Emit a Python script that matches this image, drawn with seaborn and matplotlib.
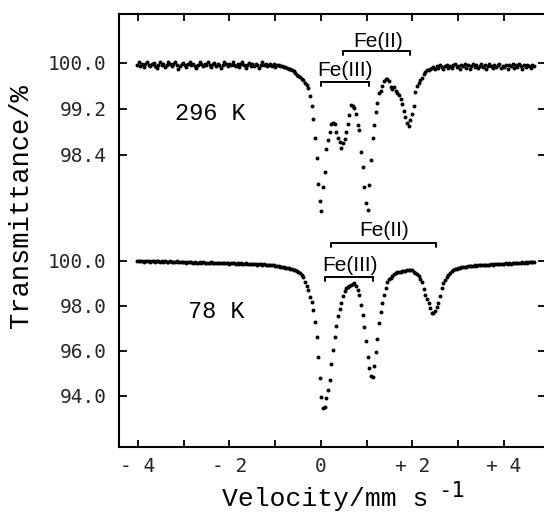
import matplotlib
matplotlib.use('Agg')
import matplotlib.pyplot as plt
from matplotlib import font_manager
import numpy as np
import seaborn as sns

# ---------------------------------------------------------------------------
# Data: Mössbauer spectra, transmittance (%) per channel
# ---------------------------------------------------------------------------
VEL_START = -4.02   # mm/s, first channel
VEL_STEP = 0.036    # mm/s per channel
N_CHAN = 242

T_296K = [
    99.97, 100.01, 99.95, 99.99, 99.93, 99.98, 100.02, 99.96, 99.94, 99.99,
    100.00, 99.95, 99.92, 99.97, 100.01, 99.96, 99.99, 99.93, 99.97, 100.02,
    99.98, 99.94, 99.99, 100.01, 99.96, 99.90, 99.95, 99.99, 100.00, 99.97,
    99.93, 99.98, 100.02, 99.96, 99.99, 99.95, 99.92, 99.97, 100.01, 99.98,
    99.94, 99.99, 99.96, 100.02, 99.97, 99.93, 99.98, 100.00, 99.95, 99.99,
    99.96, 99.91, 99.97, 100.01, 99.98, 99.94, 99.99, 99.96, 100.02, 99.97,
    99.95, 99.99, 99.93, 99.98, 100.01, 99.96, 99.92, 99.97, 100.00, 99.95,
    99.98, 99.94, 99.99, 99.96, 99.91, 99.97, 100.01, 99.96, 99.99, 99.94,
    99.97, 99.99, 99.95, 99.98, 99.93, 99.96, 99.97, 99.94, 99.95, 99.93,
    99.93, 99.92, 99.90, 99.90, 99.88, 99.86, 99.82, 99.79, 99.77, 99.75,
    99.73, 99.70, 99.65, 99.61, 99.56, 99.42, 99.25, 99.02, 98.70, 98.35,
    97.90, 97.60, 97.43, 97.85, 98.10, 98.50, 98.66, 98.80, 98.93, 98.96,
    98.94, 98.80, 98.70, 98.63, 98.52, 98.60, 98.68, 98.80, 98.93, 99.10,
    99.27, 99.25, 99.22, 99.12, 98.92, 98.84, 98.46, 98.19, 97.85, 97.56,
    97.45, 97.88, 98.31, 98.69, 98.92, 99.14, 99.31, 99.47, 99.52, 99.60,
    99.68, 99.72, 99.72, 99.68, 99.58, 99.55, 99.59, 99.52, 99.48, 99.44,
    99.37, 99.28, 99.16, 99.06, 98.95, 98.90, 99.00, 99.12, 99.25, 99.50,
    99.60, 99.66, 99.70, 99.74, 99.80, 99.84, 99.87, 99.88, 99.90, 99.91,
    99.93, 99.90, 99.95, 99.92, 99.96, 99.93, 99.89, 99.94, 99.97, 99.92,
    99.95, 99.91, 99.96, 99.99, 99.93, 99.95, 99.90, 99.96, 99.94, 99.98,
    99.92, 99.96, 99.89, 99.95, 99.99, 99.93, 99.97, 99.91, 99.95, 99.98,
    99.93, 99.96, 99.90, 99.94, 99.99, 99.95, 99.92, 99.97, 99.93, 99.96,
    99.99, 99.91, 99.95, 99.93, 99.97, 99.89, 99.96, 99.94, 99.98, 99.92,
    99.96, 99.93, 99.99, 99.94, 99.90, 99.96, 99.93, 99.97, 99.95, 99.92,
    99.96, 99.94,
]

T_78K = [
    99.99, 100.01, 99.98, 100.00, 99.97, 99.99, 100.01, 99.98, 99.97, 100.00,
    99.98, 99.96, 99.99, 100.00, 99.97, 99.98, 99.96, 99.99, 99.97, 99.95,
    99.98, 99.97, 99.94, 99.96, 99.98, 99.95, 99.97, 99.94, 99.96, 99.95,
    99.93, 99.96, 99.94, 99.95, 99.92, 99.95, 99.93, 99.91, 99.94, 99.92,
    99.94, 99.91, 99.93, 99.90, 99.92, 99.94, 99.91, 99.93, 99.90, 99.92,
    99.90, 99.92, 99.89, 99.91, 99.93, 99.90, 99.88, 99.91, 99.89, 99.90,
    99.88, 99.90, 99.87, 99.89, 99.86, 99.88, 99.89, 99.86, 99.88, 99.85,
    99.87, 99.85, 99.86, 99.84, 99.86, 99.85, 99.83, 99.85, 99.84, 99.82,
    99.83, 99.81, 99.82, 99.80, 99.79, 99.78, 99.76, 99.75, 99.74, 99.72,
    99.71, 99.69, 99.67, 99.65, 99.63, 99.60, 99.58, 99.56, 99.52, 99.47,
    99.38, 99.28, 99.08, 98.90, 98.70, 98.41, 98.19, 97.82, 97.30, 96.64,
    95.75, 94.79, 93.97, 93.45, 93.52, 93.90, 94.25, 94.70, 95.42, 96.05,
    96.60, 97.10, 97.55, 97.86, 98.15, 98.45, 98.68, 98.78, 98.85, 98.90,
    98.93, 98.97, 99.00, 98.90, 98.72, 98.49, 98.04, 97.60, 97.05, 96.45,
    95.75, 95.25, 94.90, 94.85, 95.35, 95.95, 96.55, 97.25, 97.75, 98.15,
    98.50, 98.80, 99.05, 99.18, 99.26, 99.35, 99.42, 99.46, 99.50, 99.52,
    99.53, 99.55, 99.56, 99.57, 99.58, 99.59, 99.60, 99.58, 99.53, 99.47,
    99.40, 99.32, 99.20, 99.05, 98.75, 98.50, 98.30, 98.15, 97.90, 97.70,
    97.68, 97.76, 97.95, 98.15, 98.45, 98.80, 99.00, 99.16, 99.28, 99.38,
    99.47, 99.54, 99.60, 99.63, 99.66, 99.69, 99.71, 99.72, 99.74, 99.73,
    99.75, 99.76, 99.78, 99.77, 99.79, 99.80, 99.79, 99.81, 99.82, 99.80,
    99.82, 99.83, 99.81, 99.84, 99.83, 99.85, 99.84, 99.86, 99.85, 99.87,
    99.86, 99.88, 99.87, 99.86, 99.89, 99.88, 99.90, 99.88, 99.91, 99.89,
    99.92, 99.90, 99.93, 99.91, 99.94, 99.92, 99.95, 99.93, 99.96, 99.94,
    99.97, 99.96,
]

# ticks
X_TICKS = [-4, -3, -2, -1, 0, 1, 2, 3, 4]
X_TICK_LABELS = ['- 4', '', '- 2', '', '0', '', '+ 2', '', '+ 4']
Y_TICKS_296 = [100.0, 99.2, 98.4]
Y_TICKS_78 = [100.0, 98.0, 96.0, 94.0]

# site brackets: (label, v_start, v_end, bracket level, text v, text level)
BRACKETS_296 = [('Fe(II)', 0.48, 1.95, 100.21, 1.25, 100.28),
                ('Fe(III)', 0.0, 1.05, 99.67, 0.52, 99.77)]
BRACKETS_78 = [('Fe(II)', 0.21, 2.51, 100.80, 1.38, 101.11),
               ('Fe(III)', 0.09, 1.14, 99.30, 0.63, 99.56)]

# ---------------------------------------------------------------------------
# Style
# ---------------------------------------------------------------------------
sns.set_theme(style='ticks')
plt.rcParams['font.family'] = ['DejaVu Sans Mono', 'DejaVu Sans']

_names = {f.name for f in font_manager.fontManager.ttflist}
MONO = 'Liberation Mono' if 'Liberation Mono' in _names else 'DejaVu Sans Mono'
if 'Liberation Sans Narrow' in _names:
    NARROW = 'Liberation Sans Narrow'
elif 'Liberation Sans' in _names:
    NARROW = 'Liberation Sans'
else:
    NARROW = 'DejaVu Sans'

velocity = np.round(VEL_START + VEL_STEP * np.arange(N_CHAN), 3)

W, H = 544, 513
fig = plt.figure(figsize=(W / 100, H / 100), dpi=100)
pos = [119 / W, (H - 447) / H, 427 / W, 433 / H]
ax = fig.add_axes(pos)             # frame + 78 K
ax2 = fig.add_axes(pos, sharex=ax)  # 296 K overlay
ax2.patch.set_visible(False)
for s in ax2.spines.values():
    s.set_visible(False)

sns.scatterplot(x=velocity, y=T_78K, ax=ax, color='black', s=8,
                linewidth=0, legend=False)
sns.scatterplot(x=velocity, y=T_296K, ax=ax2, color='black', s=8,
                linewidth=0, legend=False)

ax.set_xlim(-4.415, 4.92)
ax.set_ylim(91.73, 110.98)
ax2.set_ylim(93.32, 100.852)

for s in ax.spines.values():
    s.set_linewidth(1.5)
    s.set_color('black')

ax.set_xticks(X_TICKS)
ax.set_xticklabels(X_TICK_LABELS)
ax.tick_params(axis='x', which='both', direction='in', top=True, bottom=True,
               length=5, width=1.3, color='black', pad=7, labelsize=14)
ax2.tick_params(axis='x', which='both', bottom=False, top=False,
                labelbottom=False, labeltop=False)

ax.set_yticks(Y_TICKS_78)
ax.set_yticklabels([f'{t:.1f}' for t in Y_TICKS_78])
ax2.set_yticks(Y_TICKS_296)
ax2.set_yticklabels([f'{t:.1f}' for t in Y_TICKS_296])
for a in (ax, ax2):
    a.tick_params(axis='y', direction='in', left=True, right=True,
                  length=6, width=1.3, color='black', pad=9, labelsize=14)
    a.set_xlabel('')
    a.set_ylabel('')
    a.grid(False)

# brackets and site labels
for a, brackets in ((ax2, BRACKETS_296), (ax, BRACKETS_78)):
    lo_frac = 4 / 57.5 if a is ax2 else 4 / 22.5
    for label, v0, v1, lvl, tv, tl in brackets:
        a.plot([v0, v0, v1, v1], [lvl - lo_frac, lvl, lvl, lvl - lo_frac],
               color='black', lw=1.4, solid_joinstyle='miter')
        a.text(tv, tl, label, ha='center', va='baseline', fontsize=15,
               family=NARROW, color='black')

ax2.text(-3.19, 99.01, '296 K', ha='left', va='baseline', fontsize=17,
         family=MONO, color='black')
ax.text(-2.91, 97.47, '78 K', ha='left', va='baseline', fontsize=17,
        family=MONO, color='black')

# axis titles
fig.text(21 / W, 1 - 206 / H, 'Transmittance/%', rotation=90, ha='center',
         va='center', fontsize=19.5, family=MONO, color='black')
fig.text(222 / W, 1 - 506 / H, 'Velocity/mm s', ha='left', va='baseline',
         fontsize=19, family=MONO, color='black')
fig.text(438 / W, 1 - 497 / H, '-1', ha='left', va='baseline',
         fontsize=16, family='DejaVu Sans Mono', color='black')

fig.savefig('out.png', dpi=100, facecolor='white')
plt.close(fig)
